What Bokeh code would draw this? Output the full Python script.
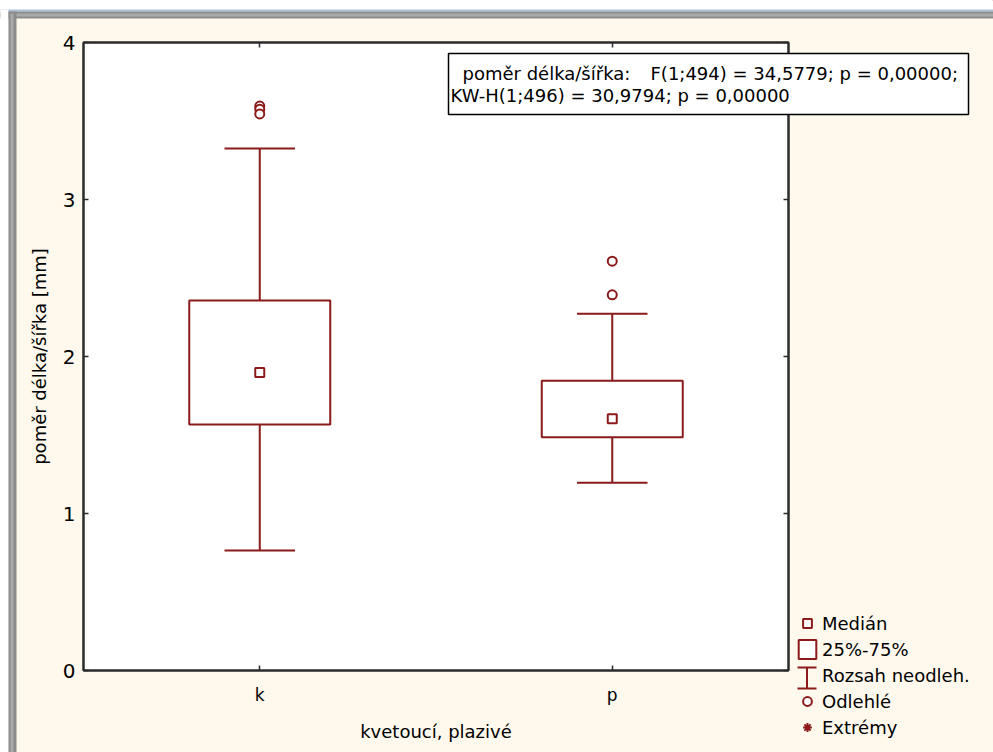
from bokeh.plotting import figure
from bokeh.models import (FactorRange, Range1d, FixedTicker, LinearAxis, CategoricalAxis, GridBox,
                          BoxAnnotation, Label, Legend, LegendItem, PolyAnnotation, ColumnDataSource)
from bokeh.transform import dodge
from bokeh.embed import file_html
from bokeh.resources import INLINE

# ---------------- data ----------------
categories = ["k", "p"]
whisker_low = [0.764, 1.196]
q1 = [1.567, 1.486]
median = [1.898, 1.603]
q3 = [2.357, 1.845]
whisker_high = [3.325, 2.272]
outlier_cat = ["k", "k", "k", "p", "p"]
outlier_val = [3.595, 3.575, 3.545, 2.607, 2.393]
extreme_cat = []
extreme_val = []
y_ticks = [0, 1, 2, 3, 4]
x_label = "kvetoucí, plazivé"
y_label = "poměr délka/šířka [mm]"
stats_head = "poměr délka/šířka:"
stats_anova = "F(1;494) = 34,5779; p = 0,00000;"
stats_kw = "KW-H(1;496) = 30,9794; p = 0,00000"
legend_labels = ["Medián", "25%-75%", "Rozsah neodleh.", "Odlehlé", "Extrémy"]

# ---------------- style ----------------
RED = "#8B1A1A"
CREAM = "#FFF9ED"
DARK = "#2b2b2b"
FONT = "DejaVu Sans"
W, H = 993, 752
FL, FT, FW, FH = 83, 42, 705, 628
FB = FT + FH

# ================= main chart =================
fig = figure(x_range=FactorRange(*categories), y_range=Range1d(0, 4),
             frame_width=FW, frame_height=FH,
             min_border_left=FL, min_border_right=W - FL - FW,
             min_border_top=FT, min_border_bottom=H - FB,
             output_backend="svg", toolbar_location=None, frame_align=False,
             background_fill_color="white", border_fill_color=CREAM)
fig.grid.visible = False
fig.outline_line_color = DARK
fig.outline_line_width = 2

src = ColumnDataSource(dict(cat=categories, wl=whisker_low, q1=q1, med=median, q3=q3, wh=whisker_high))

fig.segment(x0="cat", y0="q3", x1="cat", y1="wh", source=src, line_color=RED, line_width=2)
fig.segment(x0="cat", y0="wl", x1="cat", y1="q1", source=src, line_color=RED, line_width=2)
fig.segment(x0=dodge("cat", -0.1, range=fig.x_range), y0="wh",
            x1=dodge("cat", 0.1, range=fig.x_range), y1="wh", source=src, line_color=RED, line_width=2)
fig.segment(x0=dodge("cat", -0.1, range=fig.x_range), y0="wl",
            x1=dodge("cat", 0.1, range=fig.x_range), y1="wl", source=src, line_color=RED, line_width=2)
fig.vbar(x="cat", width=0.4, bottom="q1", top="q3", source=src,
         fill_color="white", line_color=RED, line_width=2)
fig.scatter(x="cat", y="med", source=src, marker="square", size=9,
            fill_color="white", line_color=RED, line_width=2)
fig.scatter(x=outlier_cat, y=outlier_val, marker="circle", size=9,
            fill_color="white", line_color=RED, line_width=2)
fig.scatter(x=extreme_cat, y=extreme_val, marker="asterisk", size=9,
            line_color=RED, line_width=2)


def style_axis(ax, labels=True):
    ax.axis_line_color = DARK
    ax.axis_line_width = 2
    ax.major_tick_in = 5
    ax.major_tick_out = 0
    ax.major_tick_line_color = DARK
    ax.major_tick_line_width = 1.5
    ax.minor_tick_line_color = None
    ax.major_label_text_font = FONT
    ax.major_label_text_color = "black" if labels else None
    ax.axis_label_text_font = FONT
    ax.axis_label_text_font_style = "normal"
    ax.axis_label_text_font_size = "18px"
    ax.axis_label_text_color = "black"


ya = fig.yaxis[0]
ya.ticker = FixedTicker(ticks=y_ticks)
style_axis(ya)
ya.major_label_text_font_size = "20px"
ya.major_label_standoff = 8
ya.axis_label = y_label
ya.axis_label_standoff = 10

xa = fig.xaxis[0]
style_axis(xa)
xa.major_label_text_font_size = "17px"
xa.major_label_standoff = 14
xa.axis_label = x_label
xa.axis_label_standoff = 13

ra = LinearAxis(ticker=FixedTicker(ticks=y_ticks))
style_axis(ra, labels=False)
ra.major_label_text_font_size = "0px"
ra.major_label_standoff = 0
fig.add_layout(ra, "right")

ta = CategoricalAxis()
style_axis(ta, labels=False)
ta.major_label_text_font_size = "0px"
ta.major_label_standoff = 0
fig.add_layout(ta, "above")

# ================= overlay (window chrome, statistics box, legend) =================
ovl = figure(width=W, height=H, x_range=Range1d(0, 1), y_range=Range1d(0, 1),
             min_border=0, x_axis_location=None, y_axis_location=None,
             output_backend="svg", toolbar_location=None, frame_align=False,
             background_fill_alpha=0, border_fill_alpha=0, outline_line_color=None)
ovl.grid.visible = False


def cbox(x0, y0, x1, y1, **kw):
    return BoxAnnotation(left=x0, right=x1, top=y0, bottom=y1,
                         left_units="canvas", right_units="canvas",
                         top_units="canvas", bottom_units="canvas", **kw)


chrome = [
    (0, 0, W, 9, "white"),
    (0, 9, W, 11, "#A9C2E0"),
    (0, 11, W, 18, "#8C8C8C"),
    (0, 13, W, 16, "#A9A9A9"),
    (0, 9, 8, H, "white"),
    (8, 11, 16, H, "#8C8C8C"),
    (10, 13, 13, H, "#A9A9A9"),
]
for x0, y0, x1, y1, c in chrome:
    ovl.add_layout(cbox(x0, y0, x1, y1, fill_color=c, fill_alpha=1, line_alpha=0))

ovl.add_layout(cbox(448, 53, 968, 114, fill_color="white", fill_alpha=1,
                    line_color="black", line_alpha=1, line_width=1.5))
for txt, X, Y in [(stats_head, 462, 73), (stats_anova, 650, 73), (stats_kw, 450, 95)]:
    ovl.add_layout(Label(x=X, y=Y, x_units="canvas", y_units="canvas", text=txt,
                         text_font=FONT, text_font_size="18px", text_color="black",
                         text_baseline="middle", text_align="left"))

# legend glyph renderers: styles of the chart's marks, each with one point kept off-canvas
off = dict(x=[5], y=[5])
l_med = ovl.scatter(**off, marker="square", size=9, fill_color="white", line_color=RED, line_width=2)
l_box = ovl.vbar(x=[5], top=[5], bottom=[4.9], width=0.4, fill_color="white", line_color=RED, line_width=2)
l_whi = ovl.scatter(**off, marker="dash", size=9, line_alpha=0, fill_alpha=0)
l_out = ovl.scatter(**off, marker="circle", size=9, fill_color="white", line_color=RED, line_width=2)
l_ext = ovl.scatter(**off, marker="asterisk", size=9, line_color=RED, line_width=2)

items = [LegendItem(label=lab, renderers=[r])
         for lab, r in zip(legend_labels, [l_med, l_box, l_whi, l_out, l_ext])]
LEG_TOP, LEG_H = 611, 5 * 24 + 4 * 2
legend = Legend(items=items, location=(796, H - LEG_TOP - LEG_H), orientation="vertical",
                padding=0, margin=0, spacing=2, glyph_width=22, glyph_height=24,
                label_height=24, label_standoff=4, label_text_font=FONT,
                label_text_font_size="18px", label_text_color="black",
                background_fill_alpha=0, border_line_alpha=0)
ovl.add_layout(legend)

ib_x = [797, 816, 806.5, 806.5, 797, 816, 806.5, 806.5]
ib_y = [667, 667, 667, 688, 688, 688, 688, 667]
ovl.add_layout(PolyAnnotation(xs=ib_x, ys=ib_y, xs_units="canvas", ys_units="canvas",
                              fill_alpha=0, line_color=RED, line_alpha=1, line_width=2))

p = GridBox(children=[(fig, 0, 0), (ovl, 0, 0)])

open("out.html", "w").write(file_html(p, INLINE))
